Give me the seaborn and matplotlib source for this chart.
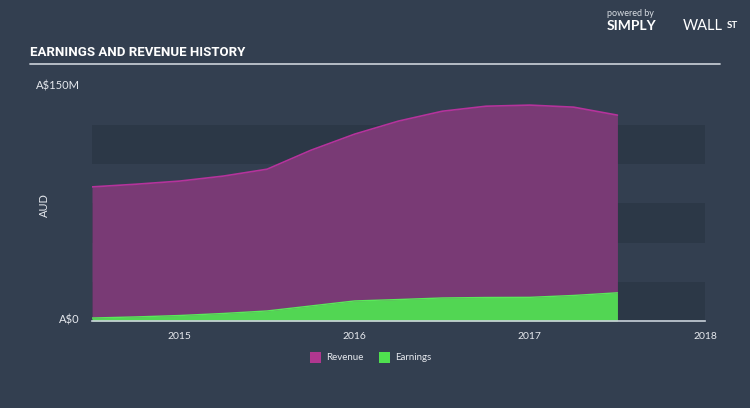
import matplotlib
matplotlib.use("Agg")
import matplotlib.pyplot as plt
import seaborn as sns
import pandas as pd
from matplotlib.patches import Rectangle

# ---- data (A$ millions) ----
years = [2014.5, 2014.75, 2015.0, 2015.25, 2015.5, 2015.75, 2016.0,
         2016.25, 2016.5, 2016.75, 2017.0, 2017.25, 2017.5]
revenue = [85.6, 87.3, 89.3, 92.5, 96.9, 109.0, 119.3,
           127.6, 133.9, 137.1, 137.8, 136.5, 131.4]
earnings = [1.9, 2.6, 3.5, 4.8, 6.4, 9.6, 12.8,
            13.7, 14.7, 15.0, 15.1, 16.3, 18.0]
tick_years = [2015, 2016, 2017, 2018]
tick_labels = ["2015", "2016", "2017", "2018"]
series_names = ["Revenue", "Earnings"]

BG = "#333f50"
BAND = "#2c3847"
REV_FILL = "#793a75"
REV_LINE = "#b5339c"
EARN_FILL = "#52d653"
EARN_LINE = "#5ae85a"
AXIS = "#c9d1da"
TXT = "#e6e9ee"

sns.set_style("dark")
plt.rcParams["font.family"] = ["Lato", "DejaVu Sans"]

df = pd.DataFrame({"year": years, "Revenue": revenue, "Earnings": earnings})

fig = plt.figure(figsize=(7.5, 4.08), dpi=100)
fig.patch.set_facecolor(BG)
ax = fig.add_axes([92/750, 1-321/408, (705-92)/750, (321-86)/408])
ax.set_facecolor(BG)

ax.set_xlim(2014.5, 2018.0)
ax.set_ylim(0, 150)

# background bands
for lo, hi in [(0, 25), (50, 75), (100, 125)]:
    ax.axhspan(lo, hi, color=BAND, zorder=0, lw=0)

ax.fill_between(df["year"], 0, df["Revenue"], color=REV_FILL, lw=0, zorder=2)
sns.lineplot(data=df, x="year", y="Revenue", ax=ax, color=REV_LINE, lw=1.2, zorder=3)
ax.fill_between(df["year"], 0, df["Earnings"], color=EARN_FILL, lw=0, zorder=4)
sns.lineplot(data=df, x="year", y="Earnings", ax=ax, color=EARN_LINE, lw=1.0, zorder=5)

for s in ["top", "right", "left"]:
    ax.spines[s].set_visible(False)
ax.spines["bottom"].set_color(AXIS)
ax.spines["bottom"].set_linewidth(1.2)
ax.spines["bottom"].set_zorder(6)

ax.set_xticks(tick_years)
ax.set_xticklabels(tick_labels)
ax.tick_params(axis="x", colors=AXIS, length=6, width=1, direction="out",
               labelsize=7.5, labelcolor=TXT, pad=2)
ax.set_yticks([])
ax.set_xlabel("")
ax.set_ylabel("")
ax.grid(False)

# y labels
fig.text(80/750, 1-86/408, "A$150M", color=TXT, fontsize=8, ha="right", va="center")
fig.text(80/750, 1-320/408, "A$0", color=TXT, fontsize=8, ha="right", va="center")
fig.text(44/750, 1-205/408, "AUD", color=TXT, fontsize=8, rotation=90,
         ha="center", va="center")

# title and rule
fig.text(30/750, 1-52/408, "EARNINGS AND REVENUE HISTORY", color="white",
         fontsize=9.5, fontweight="bold",
         family=["Roboto", "DejaVu Sans"], ha="left", va="center")
fig.add_artist(plt.Line2D([30/750, 720/750], [1-64/408, 1-64/408],
                          color="#c0c7cf", lw=1.3))

# logo text
fig.text(607/750, 1-14/408, "powered by", color="#d8dde3", fontsize=6.5,
         ha="left", va="center")
fig.text(607/750, 1-26/408, "SIMPLY", color="white", fontsize=10,
         fontweight="bold", ha="left", va="center")
fig.text(683/750, 1-26/408, "WALL", color="white", fontsize=10.5,
         fontweight="normal", ha="left", va="center")
fig.text(727/750, 1-25/408, "ST", color="white", fontsize=7,
         fontweight="bold", ha="left", va="center")

# legend
for x0, col, name in [(310, "#b0378f", series_names[0]), (379, "#4fe04f", series_names[1])]:
    fig.add_artist(Rectangle((x0/750, 1-363/408), 11/750, 11/408,
                             transform=fig.transFigure, color=col, lw=0))
    fig.text((x0+16)/750, 1-357.5/408, name, color=TXT, fontsize=7,
             ha="left", va="center")

fig.savefig("out.png", dpi=100, facecolor=BG)
